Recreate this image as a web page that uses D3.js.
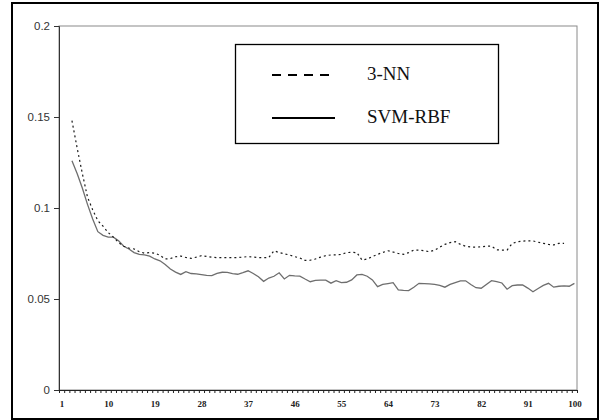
<!DOCTYPE html>
<html>
<head>
<meta charset="utf-8">
<script src="https://cdn.jsdelivr.net/npm/d3@7"></script>
<style>
  body { margin: 0; background: #fff; }
  svg { display: block; }
</style>
</head>
<body>
<svg id="chart" width="603" height="420"></svg>
<script>
// categories 1..100 (index of the x axis)
var categories = d3.range(1, 101);
var xTickLabels = [1, 10, 19, 28, 37, 46, 55, 64, 73, 82, 91, 100];
var yTicks = [0, 0.05, 0.1, 0.15, 0.2];

// 3-NN (dashed)
var nn3 = [
  null, null, 0.148, 0.133, 0.119, 0.106, 0.099, 0.093, 0.090, 0.0865,
  0.084, 0.081, 0.079, 0.078, 0.0775, 0.076, 0.0752, 0.0755, 0.0752, 0.074,
  0.072, 0.0722, 0.0732, 0.0736, 0.0728, 0.0723, 0.073, 0.0738, 0.0734, 0.073,
  0.0727, 0.0727, 0.0727, 0.0727, 0.0728, 0.073, 0.0733, 0.073, 0.0728, 0.0727,
  0.0728, 0.0765, 0.0755, 0.0748, 0.0742, 0.0733, 0.0725, 0.0712, 0.0713, 0.072,
  0.073, 0.0738, 0.0742, 0.0742, 0.0745, 0.0755, 0.0756, 0.0755, 0.0714, 0.072,
  0.0733, 0.0745, 0.0756, 0.0765, 0.0758, 0.075, 0.0745, 0.0755, 0.0769, 0.0769,
  0.0765, 0.076, 0.0768, 0.0785, 0.080, 0.081, 0.0815, 0.080, 0.079, 0.0786,
  0.0785, 0.0787, 0.079, 0.079, 0.077, 0.0769, 0.0769, 0.0805, 0.0815, 0.0818,
  0.082, 0.0819, 0.0812, 0.0806, 0.080, 0.0797, 0.0806, 0.0806, null, null
];

// SVM-RBF (solid)
var svm = [
  null, null, 0.126, 0.119, 0.111, 0.102, 0.094, 0.087, 0.085, 0.084,
  0.084, 0.082, 0.079, 0.0775, 0.0755, 0.0745, 0.0742, 0.0735, 0.072, 0.071,
  0.069, 0.0665, 0.0648, 0.0635, 0.065, 0.064, 0.0638, 0.0634, 0.063, 0.0628,
  0.0641, 0.0647, 0.0646, 0.064, 0.0636, 0.0645, 0.0655, 0.064, 0.0622, 0.0597,
  0.0615, 0.0625, 0.0644, 0.061, 0.063, 0.0627, 0.0626, 0.061, 0.0595, 0.0602,
  0.0604, 0.0604, 0.0587, 0.0601, 0.059, 0.0592, 0.0605, 0.0632, 0.0635, 0.0625,
  0.0605, 0.0568, 0.058, 0.0585, 0.059, 0.055, 0.0547, 0.0546, 0.0565, 0.0586,
  0.0585, 0.0583, 0.058, 0.0575, 0.0565, 0.058, 0.059, 0.060, 0.060, 0.058,
  0.0562, 0.0559, 0.058, 0.0601, 0.0595, 0.0588, 0.0554, 0.0573, 0.0577, 0.0577,
  0.056, 0.054, 0.0558, 0.0575, 0.0586, 0.0565, 0.057, 0.0572, 0.057, 0.0586
];

var seriesNames = ["3-NN", "SVM-RBF"];

var svg = d3.select("#chart");

// plot area edges (note: "top" would clash with window.top)
var plotLeft = 59, plotRight = 577, plotTop = 26, plotBottom = 390;

var x = d3.scaleLinear().domain([0.5, 100.5]).range([plotLeft, plotRight]);
var y = d3.scaleLinear().domain([0, 0.2]).range([plotBottom, plotTop]);

// outer frame
svg.append("rect")
  .attr("x", 12).attr("y", 3)
  .attr("width", 586).attr("height", 416)
  .attr("fill", "#fff")
  .attr("stroke", "#000")
  .attr("stroke-width", 2);

// plot area border (grey)
svg.append("rect")
  .attr("x", plotLeft).attr("y", plotTop)
  .attr("width", plotRight - plotLeft).attr("height", plotBottom - plotTop)
  .attr("fill", "none")
  .attr("stroke", "#8a8a8a")
  .attr("stroke-width", 1);

// y axis
var yAxis = svg.append("g")
  .attr("transform", "translate(" + plotLeft + ",0)")
  .call(d3.axisLeft(y).tickValues(yTicks).tickSize(5).tickPadding(4)
    .tickFormat(function (d) { return d === 0 ? "0" : String(d); }));
yAxis.select(".domain").attr("stroke", "#333");
yAxis.selectAll(".tick line").attr("stroke", "#333");
yAxis.selectAll("text")
  .attr("font-family", "Liberation Sans, Arial, sans-serif")
  .attr("font-size", 11.5)
  .attr("fill", "#333");

// x axis: tick marks between every category
var xAxis = svg.append("g")
  .attr("transform", "translate(0," + plotBottom + ")")
  .call(d3.axisBottom(x).tickValues(d3.range(0.5, 101, 1)).tickSize(3).tickFormat(""));
xAxis.select(".domain").attr("stroke", "#222");
xAxis.selectAll(".tick line").attr("stroke", "#222");

// x labels every 9 categories
var xLab = svg.append("g")
  .attr("transform", "translate(0," + plotBottom + ")")
  .call(d3.axisBottom(x).tickValues(xTickLabels).tickSize(0).tickPadding(11));
xLab.select(".domain").remove();
xLab.selectAll("text")
  .attr("font-family", "Liberation Serif, Times New Roman, serif")
  .attr("font-weight", "bold")
  .attr("font-size", 9)
  .attr("fill", "#222");

// lines
var line = d3.line()
  .defined(function (d) { return d != null; })
  .x(function (d, i) { return x(categories[i]); })
  .y(function (d) { return y(d); });

svg.append("path")
  .datum(svm)
  .attr("d", line)
  .attr("fill", "none")
  .attr("stroke", "#6e6e6e")
  .attr("stroke-width", 1.3);

svg.append("path")
  .datum(nn3)
  .attr("d", line)
  .attr("fill", "none")
  .attr("stroke", "#1a1a1a")
  .attr("stroke-width", 1.2)
  .attr("stroke-dasharray", "2,3");

// legend
var legend = svg.append("g");
legend.append("rect")
  .attr("x", 235.5).attr("y", 44.5)
  .attr("width", 263).attr("height", 99)
  .attr("fill", "#fff")
  .attr("stroke", "#000")
  .attr("stroke-width", 1.3);

var legendDash = ["9,7", null];
var legendY = [75, 118];
seriesNames.forEach(function (name, i) {
  legend.append("line")
    .attr("x1", 272).attr("x2", 335)
    .attr("y1", legendY[i]).attr("y2", legendY[i])
    .attr("stroke", "#000")
    .attr("stroke-width", 2)
    .attr("stroke-dasharray", legendDash[i]);
  legend.append("text")
    .attr("x", 367).attr("y", legendY[i] + 5)
    .attr("font-family", "Liberation Serif, Times New Roman, serif")
    .attr("font-size", 19)
    .attr("fill", "#111")
    .text(name);
});
</script>
</body>
</html>
